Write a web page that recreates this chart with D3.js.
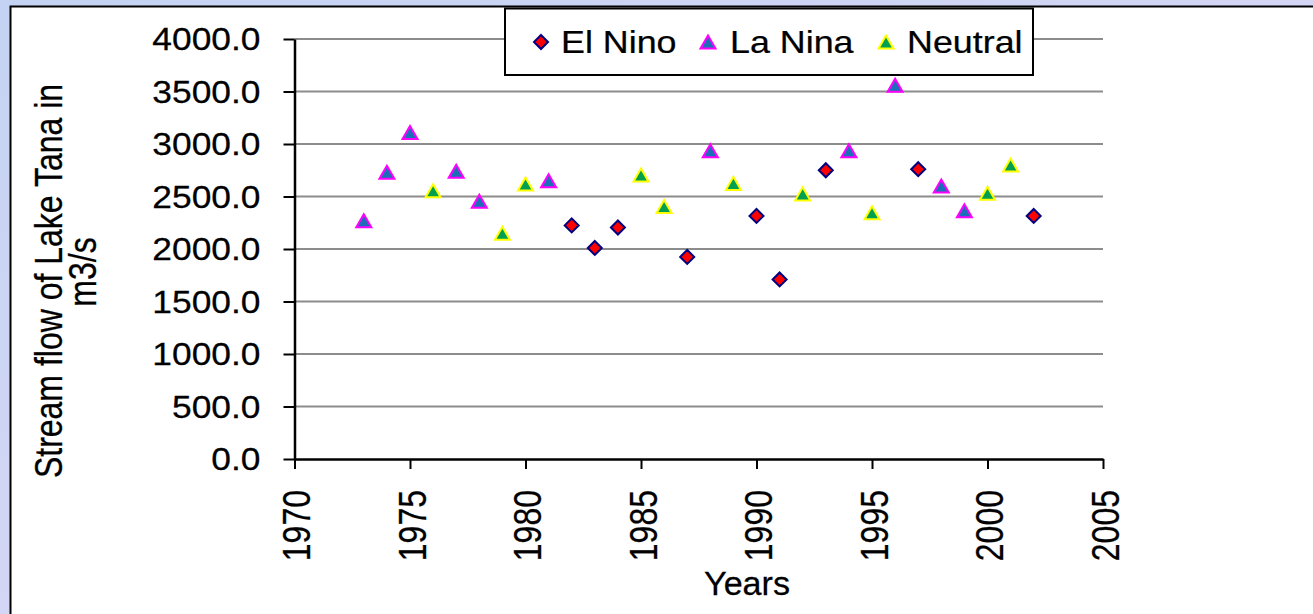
<!DOCTYPE html>
<html>
<head>
<meta charset="utf-8">
<script src="https://cdn.jsdelivr.net/npm/d3@7"></script>
<style>
  body { margin: 0; background: #c9d5f1; }
  svg { display: block; }
  text { font-family: "Liberation Sans", Arial, sans-serif; fill: #000; stroke: #000; stroke-width: 0.25px; }
</style>
</head>
<body>
<div id="container"></div>
<script>
let width = 1313;
let height = 614;

// values
let elNinoYears = [1982, 1983, 1984, 1987, 1990, 1991, 1993, 1997, 2002];
let elNinoFlow  = [2225, 2010, 2205, 1925, 2315, 1710, 2750, 2760, 2315];

let laNinaYears = [1973, 1974, 1975, 1977, 1978, 1981, 1988, 1994, 1996, 1998, 1999];
let laNinaFlow  = [2270, 2730, 3110, 2740, 2455, 2650, 2935, 2935, 3560, 2600, 2365];

let neutralYears = [1976, 1979, 1980, 1985, 1986, 1989, 1992, 1995, 2000, 2001];
let neutralFlow  = [2555, 2150, 2620, 2705, 2405, 2625, 2525, 2345, 2530, 2800];

let yTicks = [0, 500, 1000, 1500, 2000, 2500, 3000, 3500, 4000];
let xTicks = [1970, 1975, 1980, 1985, 1990, 1995, 2000, 2005];
let legendNames = ["El Nino", "La Nina", "Neutral"];

let svg = d3.select("#container")
  .append("svg")
  .attr("width", width)
  .attr("height", height);

// textured-ish slide background
let defs = svg.append("defs");
let grad = defs.append("linearGradient").attr("id", "bg").attr("x1", 0).attr("y1", 0).attr("x2", 1).attr("y2", 1);
grad.append("stop").attr("offset", "0%").attr("stop-color", "#c4d3f3");
grad.append("stop").attr("offset", "50%").attr("stop-color", "#d3d6f4");
grad.append("stop").attr("offset", "100%").attr("stop-color", "#c6d9f2");
svg.append("rect").attr("width", width).attr("height", height).attr("fill", "url(#bg)");

// chart frame
svg.append("rect")
  .attr("x", 10.5).attr("y", 6.5)
  .attr("width", width + 20).attr("height", height + 20)
  .attr("fill", "#fff")
  .attr("stroke", "#000")
  .attr("stroke-width", 2);

let x = d3.scaleLinear().domain([1970, 2005]).range([294.5, 1103]);
let y = d3.scaleLinear().domain([0, 4000]).range([459, 39]);

// gridlines
svg.append("g").selectAll("line").data(yTicks.filter(d => d > 0))
  .enter().append("line")
  .attr("x1", x(1970)).attr("x2", x(2005))
  .attr("y1", d => y(d)).attr("y2", d => y(d))
  .attr("stroke", "#8c8c8c")
  .attr("stroke-width", 2);

// y axis
let yAxis = svg.append("g")
  .attr("transform", `translate(${x(1970)},0)`)
  .call(d3.axisLeft(y).tickValues(yTicks).tickFormat(d3.format(".1f")).tickSize(11).tickSizeOuter(0));
yAxis.select(".domain").attr("stroke", "#000").attr("stroke-width", 2.5);
yAxis.selectAll(".tick line").attr("stroke", "#000").attr("stroke-width", 2);
yAxis.selectAll(".tick text")
  .attr("x", -34 / 1.16)
  .attr("dy", "0.36em")
  .attr("transform", "scale(1.16,1)")
  .style("font-size", "30.5px");

// x axis
let xAxis = svg.append("g")
  .attr("transform", `translate(0,${y(0)})`)
  .call(d3.axisBottom(x).tickValues(xTicks).tickFormat(d3.format("d")).tickSize(10).tickSizeOuter(0));
xAxis.select(".domain").attr("stroke", "#000").attr("stroke-width", 2.5);
xAxis.selectAll(".tick line").attr("stroke", "#000").attr("stroke-width", 2);
xAxis.selectAll(".tick text")
  .attr("x", 0).attr("y", 0)
  .attr("dy", "0.36em")
  .attr("text-anchor", "end")
  .attr("transform", "translate(1,31) scale(1.23,1) rotate(-90)")
  .style("font-size", "32px");

// axis titles
svg.append("text")
  .attr("transform", "translate(747,595) scale(1.05,1)")
  .attr("text-anchor", "middle")
  .style("font-size", "32.5px")
  .text("Years");

svg.append("text")
  .attr("transform", "translate(62,281) scale(1.23,1) rotate(-90)")
  .attr("text-anchor", "middle")
  .style("font-size", "32px")
  .text("Stream flow of Lake Tana in");
svg.append("text")
  .attr("transform", "translate(96,272) scale(1.23,1) rotate(-90)")
  .attr("text-anchor", "middle")
  .style("font-size", "32px")
  .text("m3/s");

// markers
let diamond = "M0,-7L7,0L0,7L-7,0Z";
let triangle = "M0,-6.5L7.5,6.5L-7.5,6.5Z";

function drawSeries(years, flows, shape, fill, stroke) {
  svg.append("g").selectAll("path").data(years)
    .enter().append("path")
    .attr("d", shape)
    .attr("transform", (d, i) => `translate(${x(d)},${y(flows[i])})`)
    .attr("fill", fill)
    .attr("stroke", stroke)
    .attr("stroke-width", 2)
    .attr("stroke-linejoin", "miter");
}

drawSeries(elNinoYears, elNinoFlow, diamond, "#ff0000", "#000080");
drawSeries(laNinaYears, laNinaFlow, triangle, "#1a6fb8", "#ff00ff");
drawSeries(neutralYears, neutralFlow, triangle, "#00a050", "#ffff00");

// legend
let legend = svg.append("g");
legend.append("rect")
  .attr("x", 505).attr("y", 8.5)
  .attr("width", 528).attr("height", 66.5)
  .attr("fill", "#fff")
  .attr("stroke", "#000")
  .attr("stroke-width", 2);

let legendMarks = [
  { shape: diamond, fill: "#ff0000", stroke: "#000080", mx: 541, tx: 561 },
  { shape: triangle, fill: "#1a6fb8", stroke: "#ff00ff", mx: 708, tx: 730 },
  { shape: triangle, fill: "#00a050", stroke: "#ffff00", mx: 886, tx: 907 }
];

legendMarks.forEach(function (m, i) {
  legend.append("path")
    .attr("d", m.shape)
    .attr("transform", `translate(${m.mx},42)`)
    .attr("fill", m.fill)
    .attr("stroke", m.stroke)
    .attr("stroke-width", 2);
  legend.append("text")
    .attr("transform", `translate(${m.tx},53) scale(1.12,1)`)
    .style("font-size", "32px")
    .text(legendNames[i]);
});
</script>
</body>
</html>
